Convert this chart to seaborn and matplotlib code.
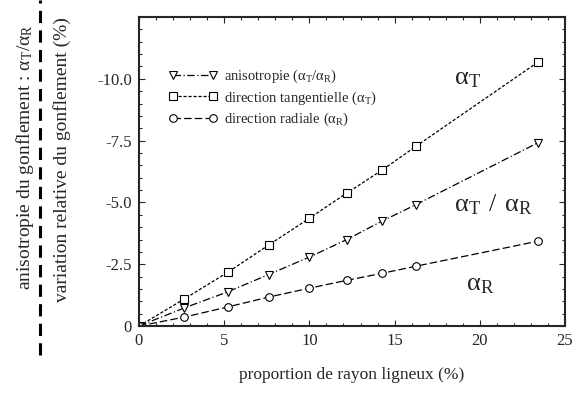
import matplotlib
matplotlib.use("Agg")
import matplotlib.pyplot as plt
import seaborn as sns
import pandas as pd
from matplotlib.lines import Line2D
from matplotlib.ticker import MultipleLocator

# proportion de rayon ligneux (%)
x_rayon = [0, 2.65, 5.2, 7.6, 10.0, 12.2, 14.25, 16.25, 23.4]
# variation relative du gonflement (%), valeurs negatives
tangentielle = [0, -1.09, -2.17, -3.27, -4.36, -5.38, -6.3, -7.27, -10.67]
anisotropie = [0, -0.73, -1.38, -2.08, -2.79, -3.5, -4.24, -4.91, -7.41]
radiale = [0, -0.36, -0.77, -1.17, -1.53, -1.85, -2.13, -2.42, -3.43]

y_ticks = [0, -2.5, -5.0, -7.5, -10.0]
y_ticklabels = ["0", "-2.5", "-5.0", "-7.5", "-10.0"]
x_ticks = [0, 5, 10, 15, 20, 25]

sns.set_style("ticks")
plt.rcParams["font.family"] = ["Liberation Serif", "DejaVu Serif"]
plt.rcParams["mathtext.default"] = "regular"

fig = plt.figure(figsize=(5.75, 4.05), dpi=100)
ax = fig.add_axes([0.2417, 0.195, 0.741, 0.763])

df = pd.DataFrame({"x": x_rayon, "T": tangentielle, "A": anisotropie, "R": radiale})

mk = dict(markersize=5.5, markerfacecolor="white", markeredgecolor="black", markeredgewidth=0.8)
sns.lineplot(data=df, x="x", y="A", ax=ax, color="black", lw=0.9, marker="v",
             linestyle=(0, (6, 2, 1, 2)), label=r"anisotropie ($\alpha_T/\alpha_R$)", **mk)
sns.lineplot(data=df, x="x", y="T", ax=ax, color="black", lw=0.9, marker="s",
             linestyle=(0, (2.5, 1.5)), label=r"direction tangentielle ($\alpha_T$)", **mk)
sns.lineplot(data=df, x="x", y="R", ax=ax, color="black", lw=0.9, marker="o",
             linestyle=(0, (6, 2.5)), label=r"direction radiale ($\alpha_R$)", **mk)

ax.set_xlim(0, 25)
ax.set_ylim(0, -12.5)
ax.set_xticks(x_ticks)
ax.set_yticks(y_ticks)
ax.set_yticklabels(y_ticklabels)
ax.xaxis.set_minor_locator(MultipleLocator(1))
ax.yaxis.set_minor_locator(MultipleLocator(0.5))
ax.tick_params(which="both", direction="in", top=True, right=True, labelsize=12, width=0.8)
ax.tick_params(which="major", length=4, pad=5)
ax.tick_params(which="minor", length=2)
for s in ax.spines.values():
    s.set_linewidth(1.5)
ax.set_xlabel("proportion de rayon ligneux (%)", fontsize=12.5, labelpad=13)
ax.set_ylabel("")

ax.legend(loc="upper left", bbox_to_anchor=(0.055, 0.855), frameon=False, fontsize=10.5,
          numpoints=2, handlelength=3.4, handletextpad=0.4, labelspacing=0.3,
          borderaxespad=0)

ax.text(19.3, -10.0, r"$\alpha_T$", fontsize=19, ha="center", va="center")
ax.text(20.8, -4.9, r"$\alpha_T\ /\ \alpha_R$", fontsize=19, ha="center", va="center")
ax.text(20.0, -1.65, r"$\alpha_R$", fontsize=19, ha="center", va="center")

fig.text(0.043, 0.612, r"anisotropie du gonflement : $\alpha_T/\alpha_R$", rotation=90,
         fontsize=14, ha="center", va="center")
fig.text(0.108, 0.605, "variation relative du gonflement (%)", rotation=90,
         fontsize=14, ha="center", va="center")
fig.add_artist(Line2D([0.0696, 0.0696], [0.123, 1.0], transform=fig.transFigure,
                      color="black", lw=2.2, linestyle=(0, (4, 2.4))))

fig.savefig("out.png", dpi=100)
